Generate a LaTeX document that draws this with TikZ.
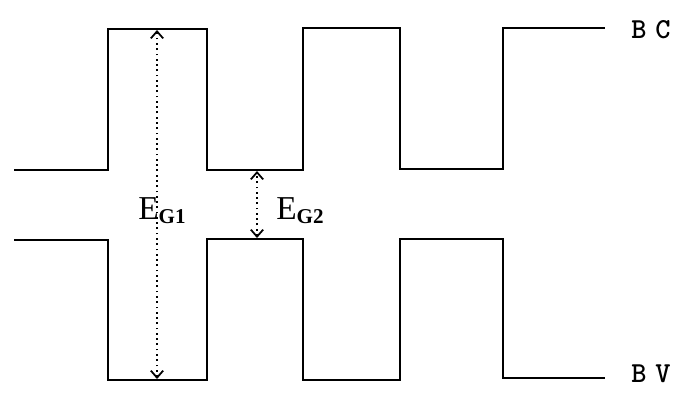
\documentclass[tikz,border=0pt]{standalone}
\usepackage{fontspec}
\setmainfont{Liberation Serif}
\usepackage{tikz}
\usetikzlibrary{arrows.meta,positioning}

\tikzset{
  band/.style={line width=1.1pt,line join=miter},
  gaparrow/.style={dotted,line width=1pt,{Straight Barb[length=4pt,width=7pt]}-{Straight Barb[length=4pt,width=7pt]}},
  bandlabel/.style={font=\ttfamily\bfseries\fontsize{16.5}{18}\selectfont,anchor=west,inner sep=0pt},
  gaplabel/.style={inner sep=0pt}
}

\begin{document}
\begin{tikzpicture}[x=0.02cm,y=-0.02cm]
  \useasboundingbox (0,0) rectangle (679,393);

  % conduction band
  \draw[band] (14,170) -- (108,170) -- (108,29) -- (207,29) -- (207,170)
    -- (303,170) -- (303,28) -- (400,28) -- (400,169) -- (503,169)
    -- (503,28) -- (605,28);
  \node[bandlabel] (bc) at (631,30) {B\kern5pt C};

  % valence band
  \draw[band] (14,240) -- (108,240) -- (108,380) -- (207,380) -- (207,239)
    -- (303,239) -- (303,380) -- (400,380) -- (400,239) -- (503,239)
    -- (503,378) -- (605,378);
  \node[bandlabel] (bv) at (631,374) {B\kern5pt V};

  % gaps
  \coordinate (g1top) at (157,30);
  \coordinate (g1bot) at (157,379);
  \coordinate (g2top) at (257,171);
  \coordinate (g2bot) at (257,238);
  \draw[gaparrow] (g1bot) -- (g1top);
  \draw[gaparrow] (g2bot) -- (g2top);

  \node[gaplabel] (eg1) at (162,211) {\fontsize{19}{21}\selectfont E\raisebox{-0.25ex}{\fontsize{12}{14}\selectfont\bfseries G1}};
  \node[gaplabel] (eg2) at (300,211) {\fontsize{19}{21}\selectfont E\raisebox{-0.25ex}{\fontsize{12}{14}\selectfont\bfseries G2}};
\end{tikzpicture}
\end{document}
